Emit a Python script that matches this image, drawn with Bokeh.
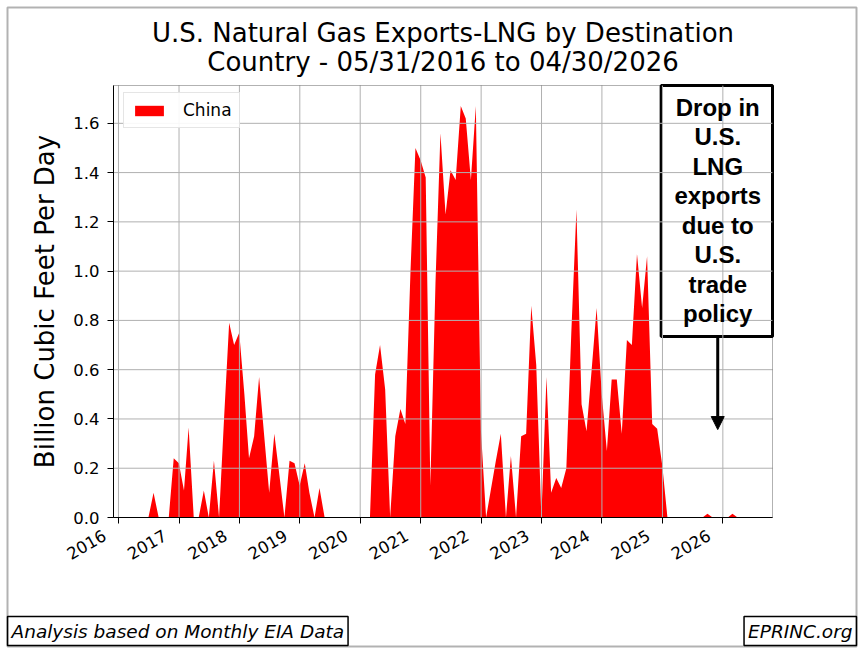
import math
import pandas as pd
from bokeh.plotting import figure
from bokeh.models import (Range1d, FixedTicker, DatetimeTickFormatter, PrintfTickFormatter,
                          Label, Arrow, NormalHead, ColumnDataSource, BoxAnnotation)
from bokeh.core.properties import value
from bokeh.embed import file_html
from bokeh.resources import INLINE

# ---------------- data (Bcf/d, LNG exports to China, month-end) ----------------
series_name = "China"
first_month_end = "2016-05-31"
v2016 = [0.00, 0.00, 0.10, 0.00, 0.00, 0.00, 0.24, 0.22]                      # May-Dec
v2017 = [0.11, 0.365, 0.00, 0.00, 0.11, 0.00, 0.23, 0.00, 0.40, 0.79, 0.70, 0.75]
v2018 = [0.50, 0.24, 0.33, 0.57, 0.33, 0.10, 0.34, 0.17, 0.00, 0.23, 0.22, 0.13]
v2019 = [0.22, 0.10, 0.00, 0.12, 0.00, 0.00, 0.00, 0.00, 0.00, 0.00, 0.00, 0.00]
v2020 = [0.00, 0.00, 0.58, 0.70, 0.52, 0.00, 0.33, 0.44, 0.38, 1.00, 1.50, 1.45]
v2021 = [1.38, 0.13, 0.95, 1.56, 1.23, 1.41, 1.37, 1.67, 1.62, 1.37, 1.67, 0.35]
v2022 = [0.00, 0.11, 0.23, 0.34, 0.00, 0.25, 0.00, 0.33, 0.34, 0.86, 0.62, 0.00]
v2023 = [0.57, 0.10, 0.16, 0.12, 0.20, 0.75, 1.25, 0.46, 0.35, 0.60, 0.85, 0.50]
v2024 = [0.27, 0.56, 0.56, 0.34, 0.72, 0.70, 1.07, 0.85, 1.06, 0.38, 0.36, 0.21]
v2025 = [0.00, 0.00, 0.00, 0.00, 0.00, 0.00, 0.00, 0.00, 0.015, 0.00, 0.00, 0.00]
v2026 = [0.00, 0.015, 0.00, 0.00]                                              # Jan-Apr

tick_years = [2016, 2017, 2018, 2019, 2020, 2021, 2022, 2023, 2024, 2025, 2026]
y_ticks = [0.0, 0.2, 0.4, 0.6, 0.8, 1.0, 1.2, 1.4, 1.6]

title_line1 = "U.S. Natural Gas Exports-LNG by Destination"
title_line2 = "Country - 05/31/2016 to 04/30/2026"
y_label = "Billion Cubic Feet Per Day"
note_lines = ["Drop in", "U.S.", "LNG", "exports", "due to", "U.S.", "trade", "policy"]
footer_left = "Analysis based on Monthly EIA Data"
footer_right = "EPRINC.org"

# ---------------------------------------------------------------------------------
values = v2016 + v2017 + v2018 + v2019 + v2020 + v2021 + v2022 + v2023 + v2024 + v2025 + v2026
dates = pd.date_range(first_month_end, periods=len(values), freq=pd.offsets.MonthEnd())


def ms(ts):
    return pd.Timestamp(ts).value / 1e6


# data limits of the axes box (matplotlib-like 5% x margins, 5% headroom)
span = ms(dates[-1]) - ms(dates[0])
x_start = ms(dates[0]) - 0.05 * span
x_end = ms(dates[-1]) + 0.05 * span
y_end = max(values) * 1.05

FONT = "DejaVu Sans"
W, H = 860, 654
# axes box in canvas pixels
AX_L, AX_R, AX_T, AX_B = 113, 772, 85, 517
ppx = (x_end - x_start) / (AX_R - AX_L)
ppy = y_end / (AX_B - AX_T)
cx0 = x_start - AX_L * ppx
cx1 = x_end + (W - AX_R) * ppx
cy0 = 0 - (H - AX_B) * ppy
cy1 = y_end + AX_T * ppy

p = figure(width=W, height=H, x_axis_type="datetime",
           x_range=Range1d(cx0, cx1), y_range=Range1d(cy0, cy1),
           output_backend="svg", toolbar_location=None,
           min_border=0, min_border_left=0, min_border_right=0,
           min_border_top=0, min_border_bottom=0)
p.title.visible = False
p.background_fill_color = "white"
p.border_fill_color = "white"
p.outline_line_color = None
p.xgrid.visible = False
p.ygrid.visible = False

# area
src = ColumnDataSource(dict(x=dates, y=values))
p.varea(x="x", y1=0, y2="y", source=src, fill_color="#ff0000", fill_alpha=1,
        legend_label=series_name)

# annotation box with note (white box, drawn under the grid like the reference)
box_left = ms("2024-12-24")
box_bottom = 0.735
note_x = ms("2025-12-01")
p.quad(left=[box_left], right=[x_end], bottom=[box_bottom], top=[y_end],
       fill_color="white", line_color="black", line_width=3)

# grid lines at the tick positions, over the area
x_tick_vals = [ms(f"{y}-01-01") for y in tick_years]
gx = p.segment(x0=x_tick_vals, y0=[0] * len(x_tick_vals), x1=x_tick_vals,
               y1=[y_end] * len(x_tick_vals), line_color="#b0b0b0", line_width=1)
gy = p.segment(x0=[x_start] * len(y_ticks), y0=y_ticks, x1=[x_end] * len(y_ticks),
               y1=y_ticks, line_color="#b0b0b0", line_width=1)
gx.level = "guide"
gy.level = "guide"

# axes placed at the edges of the axes box
p.xaxis.fixed_location = 0
p.xaxis.bounds = (x_start, x_end)
p.xaxis.ticker = FixedTicker(ticks=x_tick_vals)
yr_fmt = "%Y\u00a0\u00a0\u00a0"
p.xaxis.formatter = DatetimeTickFormatter(years=yr_fmt, months=yr_fmt, days=yr_fmt,
                                          hours=yr_fmt, minutes=yr_fmt)
p.xaxis.major_label_orientation = math.pi / 6
p.yaxis.fixed_location = x_start
p.yaxis.bounds = (0, y_end)
p.yaxis.ticker = FixedTicker(ticks=y_ticks)
p.yaxis.formatter = PrintfTickFormatter(format="%.1f")
p.yaxis.axis_label = y_label
for ax in (p.xaxis, p.yaxis):
    ax.axis_line_color = "black"
    ax.major_tick_line_color = "black"
    ax.major_tick_out = 6
    ax.major_tick_in = 0
    ax.minor_tick_line_color = None
    ax.major_label_text_font = FONT
    ax.major_label_text_font_size = "16.5px"
    ax.major_label_text_color = "black"
p.yaxis.major_label_standoff = 8
p.xaxis.major_label_standoff = 3
p.yaxis.axis_label_text_font = FONT
p.yaxis.axis_label_text_font_size = "26px"
p.yaxis.axis_label_text_font_style = "normal"
p.yaxis.axis_label_text_color = "black"
p.yaxis.axis_label_standoff = 10

# axes box outline
p.add_layout(BoxAnnotation(left=x_start, right=x_end, bottom=0, top=y_end,
                           fill_alpha=0, line_color="black", line_width=1))

# legend
lg = p.legend[0]
lg.location = (AX_L + 10, H - 128)
lg.margin = 0
lg.padding = 7
lg.glyph_width = 36
lg.glyph_height = 13
lg.label_standoff = 16
lg.label_text_font = FONT
lg.label_text_font_size = "17px"
lg.label_text_color = "black"
lg.border_line_color = "#cccccc"
lg.border_line_width = 1
lg.background_fill_color = "white"
lg.background_fill_alpha = 0.9

# note text and arrow
note_top = 1.664
note_step = 0.1195
note_src = ColumnDataSource(dict(
    x=[note_x] * len(note_lines),
    y=[note_top - i * note_step for i in range(len(note_lines))],
    t=note_lines))
tr = p.text(x="x", y="y", text="t", source=note_src, text_align="center",
            text_baseline="middle", text_font=value("Liberation Sans"),
            text_font_size="24px", text_font_style="bold", text_color="black")
tr.level = "annotation"
p.add_layout(Arrow(x_start=note_x, y_start=box_bottom, x_end=note_x, y_end=0.357,
                   line_width=3, line_color="black",
                   end=NormalHead(size=13, fill_color="black", line_color="black", line_width=1)))

# title (two centred lines), screen units measured from the canvas bottom-left
title_cx = (AX_L + AX_R) / 2
for txt, base in ((title_line1, 32), (title_line2, 61)):
    p.add_layout(Label(x=title_cx, y=H - base, x_units="screen", y_units="screen", text=txt,
                       text_font=FONT, text_font_size="26px", text_font_style="normal",
                       text_color="black", text_align="center", text_baseline="alphabetic"))

# footers
p.add_layout(Label(x=7, y=H - 645, x_units="screen", y_units="screen", text=footer_left,
                   text_font=FONT, text_font_size="18.5px", text_font_style="italic",
                   text_color="black", text_align="left", text_baseline="bottom",
                   border_line_color="black", border_line_width=1.5,
                   background_fill_color="white", padding=4))
p.add_layout(Label(x=856, y=H - 645, x_units="screen", y_units="screen", text=footer_right,
                   text_font=FONT, text_font_size="18.5px", text_font_style="italic",
                   text_color="black", text_align="right", text_baseline="bottom",
                   border_line_color="black", border_line_width=1.5,
                   background_fill_color="white", padding=4))

# outer figure border
p.add_layout(BoxAnnotation(left=7, right=856, bottom=H - 646, top=H - 7,
                           left_units="screen", right_units="screen",
                           bottom_units="screen", top_units="screen",
                           fill_alpha=0, line_color="black", line_width=2))

open("out.html", "w").write(file_html(p, INLINE))
